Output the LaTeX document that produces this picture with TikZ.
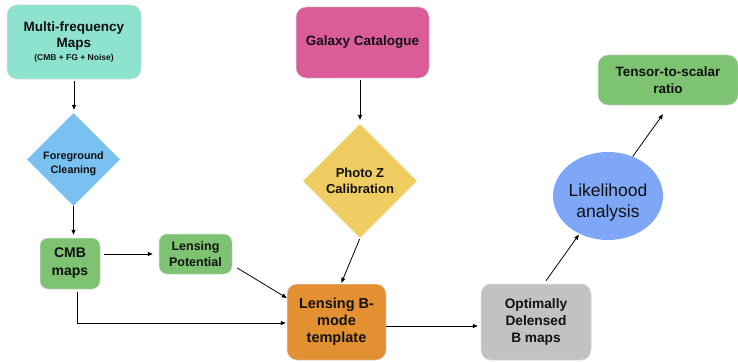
\documentclass[tikz,border=0pt]{standalone}
\usepackage{fontspec}
\setmainfont{Liberation Sans}
\usetikzlibrary{arrows.meta,shapes.geometric}
\definecolor{cteal}{HTML}{8EE3CF}
\definecolor{cblue}{HTML}{78C1F1}
\definecolor{cgreen}{HTML}{7DC372}
\definecolor{cpink}{HTML}{DA5D9A}
\definecolor{cyellow}{HTML}{F0CD62}
\definecolor{corange}{HTML}{E39033}
\definecolor{cgray}{HTML}{C2C2C2}
\definecolor{cell}{HTML}{7FA7F7}
\definecolor{ctext}{HTML}{111111}
\begin{document}
\begin{tikzpicture}[x=1pt,y=-1pt,
  box/.style={rectangle,rounded corners=10pt,draw=black!15,line width=0.5pt,inner sep=0pt,align=center,text=ctext,font=\bfseries\fontsize{13.5}{16.5}\selectfont},
  dia/.style={diamond,aspect=1,inner sep=0pt,align=center,text=ctext},
  txt/.style={align=center,inner sep=0pt,text=ctext},
  arr/.style={-{Triangle[length=5pt,width=4pt]},line width=0.8pt,black}]
\useasboundingbox (0,0) rectangle (738,361);

% nodes
\node[box,fill=cteal,minimum width=134,minimum height=74] (mf) at (74,42)
  {Multi-frequency\\Maps\\[-3.5pt]{\fontsize{8.5}{10}\selectfont (CMB + FG + Noise)}};
\node[box,fill=cpink,minimum width=133,minimum height=71] (gc) at (362.5,42.5) {Galaxy Catalogue};

\node[dia,fill=cblue,minimum size=93] (fg) at (73.5,159.5) {};
\node[txt,font=\bfseries\fontsize{10.8}{14.3}\selectfont] (fgt) at (73.5,164) {Foreground\\Cleaning};

\node[dia,fill=cyellow,minimum size=114,font=\bfseries\fontsize{13}{16}\selectfont] (pz) at (360,181) {Photo Z\\Calibration};

\node[box,rounded corners=8pt,fill=cgreen,minimum width=60,minimum height=51,font=\bfseries\fontsize{14}{18}\selectfont] (cmb) at (70,263.5) {CMB\\maps};
\node[box,rounded corners=8pt,fill=cgreen,minimum width=73,minimum height=40,font=\bfseries\fontsize{12.5}{16}\selectfont] (lp) at (195.5,254) {Lensing\\Potential};

\node[box,fill=corange,minimum width=99,minimum height=76,font=\bfseries\fontsize{14.5}{17}\selectfont] (lb) at (336.5,322) {Lensing B-\\mode\\template};
\node[box,fill=cgray,minimum width=110,minimum height=76,font=\bfseries\fontsize{13.7}{16.7}\selectfont] (od) at (536,322) {Optimally\\Delensed\\B maps};

\node[ellipse,fill=cell,minimum width=110,minimum height=88,inner sep=0pt] (lh) at (608,196) {};
\node[txt,font=\fontsize{17.5}{21.5}\selectfont] (lht) at (608,202.5) {Likelihood\\analysis};

\node[box,fill=cgreen,minimum width=140,minimum height=50,font=\bfseries\fontsize{13.5}{17}\selectfont] (ts) at (668,80) {Tensor-to-scalar\\ratio};

% connectors
\draw[arr,shorten <=2pt,shorten >=3pt] (mf.south) -- (mf.south |- fg.north);
\draw[arr,shorten >=3pt] (fg.south) -- (fg.south |- cmb.north);
\draw[arr,shorten <=2pt,shorten >=4pt] (gc.south -| pz.north) -- (pz.north);
\draw[arr,shorten <=1pt,shorten >=1pt] (pz.south) -- ([xshift=4.5pt]lb.north);
\draw[arr,shorten <=4pt,shorten >=6pt] ([yshift=9.5pt]cmb.east) -- ([yshift=9.5pt]cmb.east -| lp.west);
\draw[arr] ([xshift=5pt,yshift=-14pt]lp.east) -- ([yshift=24pt]lb.west);
\draw[arr,shorten <=3pt,shorten >=1pt] ([xshift=7pt]cmb.south) |- ([yshift=-1pt]lb.west);
\draw[arr,shorten >=3pt] ([yshift=-4pt]lb.east) -- ([yshift=-4pt]od.west);
\draw[arr,shorten >=1pt] ([xshift=10pt,yshift=3pt]od.north) -- (lh.-127);
\draw[arr] (lh.58) -- ([xshift=-5pt,yshift=-9pt]ts.south);
\end{tikzpicture}
\end{document}
